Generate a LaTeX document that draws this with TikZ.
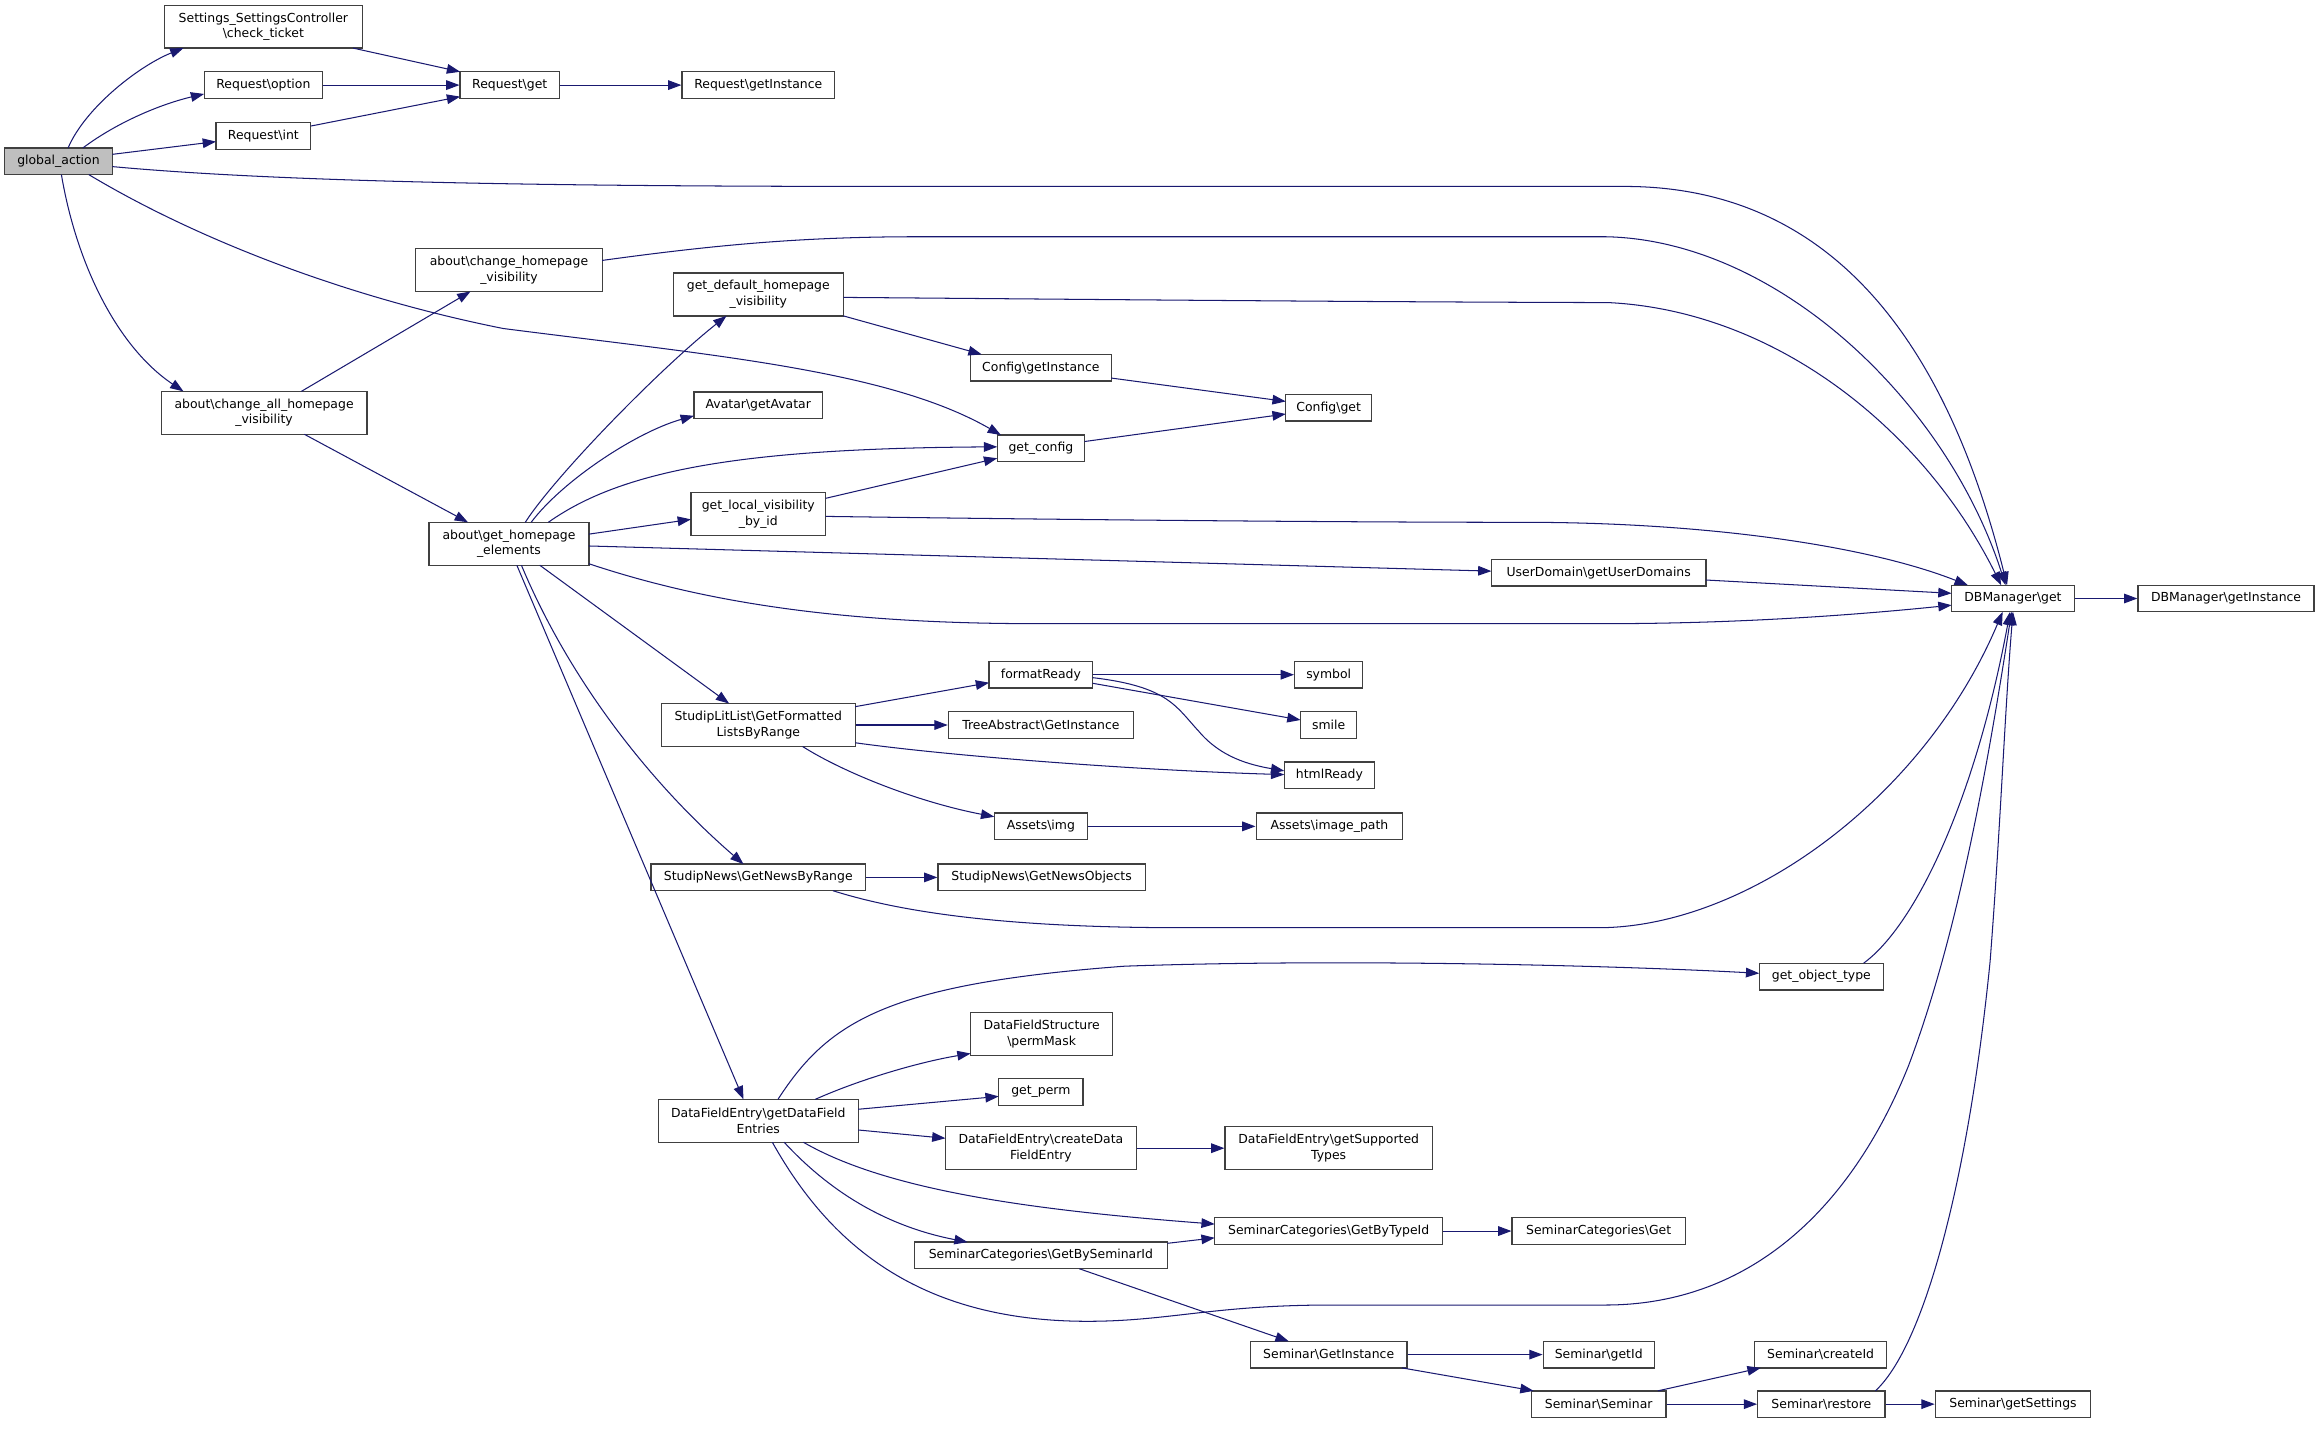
\documentclass[tikz,border=0pt]{standalone}
\usepackage{fontspec}
\setmainfont{DejaVu Sans}
\usetikzlibrary{arrows.meta}
\newcommand{\BSL}{\textbackslash}
\definecolor{edgeblue}{RGB}{25,25,112}
\definecolor{boxline}{RGB}{64,64,64}
\begin{document}
\begin{tikzpicture}[x=1pt,y=-1pt,
  every node/.style={font=\fontsize{8.4pt}{10.6pt}\selectfont},
  nd/.style={draw=boxline, line width=0.9pt, fill=white, rectangle, inner sep=0pt, minimum height=18pt, align=center},
  nd2/.style={nd, minimum height=29pt},
  root/.style={fill={rgb,255:red,191;green,191;blue,191}},
  edge/.style={draw=edgeblue, line width=0.7pt, -{Triangle[length=9pt,width=6.5pt]}, fill=none}]
\useasboundingbox (0,0) rectangle (1568,970);

% nodes
\node[nd, root, minimum width=73pt] (ga) at (39.5,109) {global\_action};
\node[nd2, minimum width=134pt] (ct) at (178,18) {Settings\_SettingsController\\\BSL check\_ticket};
\node[nd, minimum width=80pt] (ro) at (178,57.5) {Request\BSL option};
\node[nd, minimum width=64pt] (ri) at (178,92) {Request\BSL int};
\node[nd, minimum width=67pt] (rg) at (344.5,57.5) {Request\BSL get};
\node[nd, minimum width=103pt] (rgi) at (512.5,57.5) {Request\BSL getInstance};
\node[nd2, minimum width=126pt] (chv) at (344,182.5) {about\BSL change\_homepage\\\_visibility};
\node[nd2, minimum width=139pt] (cahv) at (178.5,279) {about\BSL change\_all\_homepage\\\_visibility};
\node[nd2, minimum width=108pt] (ghe) at (344,367.5) {about\BSL get\_homepage\\\_elements};
\node[nd2, minimum width=115pt] (gdhv) at (512.5,199) {get\_default\_homepage\\\_visibility};
\node[nd, minimum width=87pt] (av) at (512.5,274) {Avatar\BSL getAvatar};
\node[nd2, minimum width=91pt] (glv) at (512.5,347.5) {get\_local\_visibility\\\_by\_id};
\node[nd, minimum width=95pt] (cgi) at (703.5,248.5) {Config\BSL getInstance};
\node[nd, minimum width=58pt] (cg) at (898,275.5) {Config\BSL get};
\node[nd, minimum width=59pt] (gc) at (703.5,303) {get\_config};
\node[nd, minimum width=145pt] (udg) at (1080.5,387) {UserDomain\BSL getUserDomains};
\node[nd, minimum width=83pt] (dbg) at (1360.5,404.5) {DBManager\BSL get};
\node[nd, minimum width=119pt] (dbgi) at (1504.5,404.5) {DBManager\BSL getInstance};
\node[nd2, minimum width=131pt] (slt) at (512.5,490) {StudipLitList\BSL GetFormatted\\ListsByRange};
\node[nd, minimum width=70pt] (fr) at (703.5,456) {formatReady};
\node[nd, minimum width=46pt] (sym) at (898,456) {symbol};
\node[nd, minimum width=38pt] (sml) at (898,490) {smile};
\node[nd, minimum width=61pt] (hr) at (898.5,524) {htmlReady};
\node[nd, minimum width=125pt] (ta) at (703.5,490) {TreeAbstract\BSL GetInstance};
\node[nd, minimum width=63pt] (ai) at (703.5,558.5) {Assets\BSL img};
\node[nd, minimum width=99pt] (aip) at (898.5,558.5) {Assets\BSL image\_path};
\node[nd, minimum width=145pt] (snr) at (512.5,593) {StudipNews\BSL GetNewsByRange};
\node[nd, minimum width=140pt] (sno) at (704,593) {StudipNews\BSL GetNewsObjects};
\node[nd, minimum width=84pt] (got) at (1231,660) {get\_object\_type};
\node[nd2, minimum width=96pt] (pm) at (704,699) {DataFieldStructure\\\BSL permMask};
\node[nd, minimum width=57pt] (gp) at (703.5,738) {get\_perm};
\node[nd2, minimum width=135pt] (dfe) at (512.5,757.5) {DataFieldEntry\BSL getDataField\\Entries};
\node[nd2, minimum width=129pt] (cdfe) at (703.5,776) {DataFieldEntry\BSL createData\\FieldEntry};
\node[nd2, minimum width=140pt] (gst) at (898,776) {DataFieldEntry\BSL getSupported\\Types};
\node[nd, minimum width=154pt] (gbt) at (898,832) {SeminarCategories\BSL GetByTypeId};
\node[nd, minimum width=171pt] (gbs) at (703.5,848.5) {SeminarCategories\BSL GetBySeminarId};
\node[nd, minimum width=117pt] (scg) at (1080.5,832) {SeminarCategories\BSL Get};
\node[nd, minimum width=106pt] (sgi) at (898,915.5) {Seminar\BSL GetInstance};
\node[nd, minimum width=75pt] (sgid) at (1080.5,915.5) {Seminar\BSL getId};
\node[nd, minimum width=89pt] (sci) at (1230.5,915.5) {Seminar\BSL createId};
\node[nd, minimum width=91pt] (ss) at (1080.5,949) {Seminar\BSL Seminar};
\node[nd, minimum width=86pt] (sr) at (1231,949) {Seminar\BSL restore};
\node[nd, minimum width=105pt] (sgs) at (1360.5,949) {Seminar\BSL getSettings};

% edges
\draw[edge] ([shift={(6.5,-9)}]ga.center) .. controls (58,72) and (95,44) .. ([shift={(-54,14.5)}]ct.center);
\draw[edge] ([shift={(16.5,-9)}]ga.center) .. controls (80,82) and (110,70) .. ([shift={(-40,6)}]ro.center);
\draw[edge] ([shift={(36.5,-4.7)}]ga.center) -- ([shift={(-32,3.7)}]ri.center);
\draw[edge] ([shift={(60.6,14.5)}]ct.center) -- ([shift={(-33.5,-9)}]rg.center);
\draw[edge] (ro.east) -- (rg.west);
\draw[edge] ([shift={(32,-6.8)}]ri.center) -- ([shift={(-33.5,7.8)}]rg.center);
\draw[edge] (rg.east) -- (rgi.west);
\draw[edge] ([shift={(36.5,3.6)}]ga.center) .. controls (200,124) and (400,126) .. (608,126) -- (1098,126) .. controls (1250,126) and (1320,250) .. ([shift={(-4,-9)}]dbg.center);
\draw[edge] ([shift={(63,-6.5)}]chv.center) .. controls (480,166) and (540,160) .. (620,160) -- (1085,160) .. controls (1200,162) and (1315,270) .. ([shift={(-5,-9)}]dbg.center);
\draw[edge] ([shift={(57.5,2)}]gdhv.center) .. controls (700,202) and (900,204) .. (1087,204.5) .. controls (1200,210) and (1300,290) .. ([shift={(-8,-9)}]dbg.center);
\draw[edge] ([shift={(20.5,9)}]ga.center) .. controls (130,160) and (230,200) .. (340,222) .. controls (480,240) and (600,250) .. ([shift={(-27,-9)}]gc.center);
\draw[edge] ([shift={(2,9)}]ga.center) .. controls (52,180) and (80,235) .. ([shift={(-54.5,-14.5)}]cahv.center);
\draw[edge] ([shift={(25.2,-14.5)}]cahv.center) -- ([shift={(-26,14.5)}]chv.center);
\draw[edge] ([shift={(27.2,14.5)}]cahv.center) -- ([shift={(-27.7,-14.5)}]ghe.center);
\draw[edge] ([shift={(57.5,14.5)}]gdhv.center) -- ([shift={(-40,-9)}]cgi.center);
\draw[edge] ([shift={(47.5,7)}]cgi.center) -- ([shift={(-29,-4.2)}]cg.center);
\draw[edge] ([shift={(29.5,-4.6)}]gc.center) -- ([shift={(-29,4.3)}]cg.center);
\draw[edge] ([shift={(11,-14.5)}]ghe.center) .. controls (375,322) and (445,250) .. ([shift={(-21.5,14.5)}]gdhv.center);
\draw[edge] ([shift={(15,-14.5)}]ghe.center) .. controls (380,325) and (430,292) .. ([shift={(-43.5,7)}]av.center);
\draw[edge] ([shift={(26.6,-14.5)}]ghe.center) .. controls (420,318) and (500,303) .. ([shift={(-29.5,-1)}]gc.center);
\draw[edge] ([shift={(54,-6.5)}]ghe.center) -- ([shift={(-45.5,3.5)}]glv.center);
\draw[edge] ([shift={(45.5,-10.7)}]glv.center) -- ([shift={(-29.5,6.7)}]gc.center);
\draw[edge] ([shift={(45.5,1.5)}]glv.center) .. controls (700,351) and (900,353) .. (1030,353) .. controls (1150,353) and (1260,368) .. ([shift={(-30.5,-9)}]dbg.center);
\draw[edge] ([shift={(54,1.5)}]ghe.center) -- ([shift={(-72.5,-1)}]udg.center);
\draw[edge] ([shift={(72.5,5)}]udg.center) -- ([shift={(-41.5,-3.5)}]dbg.center);
\draw[edge] ([shift={(54,13.5)}]ghe.center) .. controls (470,405) and (560,421.5) .. (700,421.5) -- (1085,421.5) .. controls (1180,421.5) and (1260,415) .. ([shift={(-41.5,4.5)}]dbg.center);
\draw[edge] ([shift={(20.8,14.5)}]ghe.center) -- ([shift={(-19.7,-14.5)}]slt.center);
\draw[edge] ([shift={(8.4,14.5)}]ghe.center) .. controls (385,460) and (440,530) .. ([shift={(-10,-9)}]snr.center);
\draw[edge] ([shift={(5.3,14.5)}]ghe.center) -- ([shift={(-10,-14.5)}]dfe.center);
\draw[edge] (dbg.east) -- (dbgi.west);
\draw[edge] ([shift={(65.5,-12.4)}]slt.center) -- ([shift={(-35,5.4)}]fr.center);
\draw[edge] (slt.east) -- (ta.west);
\draw[edge] ([shift={(65.5,12)}]slt.center) .. controls (650,512) and (780,521) .. ([shift={(-30.5,-0.5)}]hr.center);
\draw[edge] ([shift={(29.9,14.5)}]slt.center) .. controls (570,522) and (620,542) .. ([shift={(-31.5,-6.5)}]ai.center);
\draw[edge] (fr.east) -- (sym.west);
\draw[edge] ([shift={(35,5.8)}]fr.center) -- ([shift={(-19,-3.4)}]sml.center);
\draw[edge] ([shift={(35,2)}]fr.center) .. controls (790,464) and (795,478) .. (810,494) .. controls (825,512) and (845,517) .. ([shift={(-30.5,-3)}]hr.center);
\draw[edge] (ai.east) -- (aip.west);
\draw[edge] (snr.east) -- (sno.west);
\draw[edge] ([shift={(50.5,9)}]snr.center) .. controls (620,620) and (700,627) .. (800,627) -- (1080,627) .. controls (1180,627) and (1300,540) .. ([shift={(-7,9)}]dbg.center);
\draw[edge] ([shift={(13.3,-14.5)}]dfe.center) .. controls (560,690) and (600,665) .. (760,653) .. controls (900,648) and (1080,652) .. ([shift={(-42,-2.2)}]got.center);
\draw[edge] ([shift={(28.5,-9)}]got.center) .. controls (1295,625) and (1335,540) .. ([shift={(-2,9)}]dbg.center);
\draw[edge] ([shift={(38.5,-14.5)}]dfe.center) .. controls (580,730) and (620,718) .. ([shift={(-48,13)}]pm.center);
\draw[edge] ([shift={(67.5,-7.8)}]dfe.center) -- ([shift={(-28.5,3)}]gp.center);
\draw[edge] ([shift={(67.5,6.2)}]dfe.center) -- ([shift={(-64.5,-6.7)}]cdfe.center);
\draw[edge] (cdfe.east) -- (gst.west);
\draw[edge] ([shift={(30.5,14.5)}]dfe.center) .. controls (600,805) and (700,818) .. ([shift={(-77,-4.7)}]gbt.center);
\draw[edge] ([shift={(17.5,14.5)}]dfe.center) .. controls (565,810) and (605,830) .. ([shift={(-49.5,-9)}]gbs.center);
\draw[edge] ([shift={(9.5,14.5)}]dfe.center) .. controls (560,840) and (620,893) .. (735,893) .. controls (790,893) and (820,882) .. (900,882) -- (1085,882) .. controls (1180,882) and (1250,820) .. (1290,720) .. controls (1320,640) and (1340,540) .. ([shift={(-1,9)}]dbg.center);
\draw[edge] ([shift={(85.5,-8.2)}]gbs.center) -- ([shift={(-77,4.6)}]gbt.center);
\draw[edge] ([shift={(26,9)}]gbs.center) -- ([shift={(-27,-9)}]sgi.center);
\draw[edge] (gbt.east) -- (scg.west);
\draw[edge] (sgi.east) -- (sgid.west);
\draw[edge] ([shift={(49.6,9)}]sgi.center) -- ([shift={(-44,-9)}]ss.center);
\draw[edge] ([shift={(40,-9)}]ss.center) -- ([shift={(-40.5,9)}]sci.center);
\draw[edge] (ss.east) -- (sr.west);
\draw[edge] (sr.east) -- (sgs.west);
\draw[edge] ([shift={(36.5,-9)}]sr.center) .. controls (1300,910) and (1330,800) .. (1345,650) .. controls (1352,560) and (1355,480) .. ([shift={(0,9)}]dbg.center);
\end{tikzpicture}
\end{document}
